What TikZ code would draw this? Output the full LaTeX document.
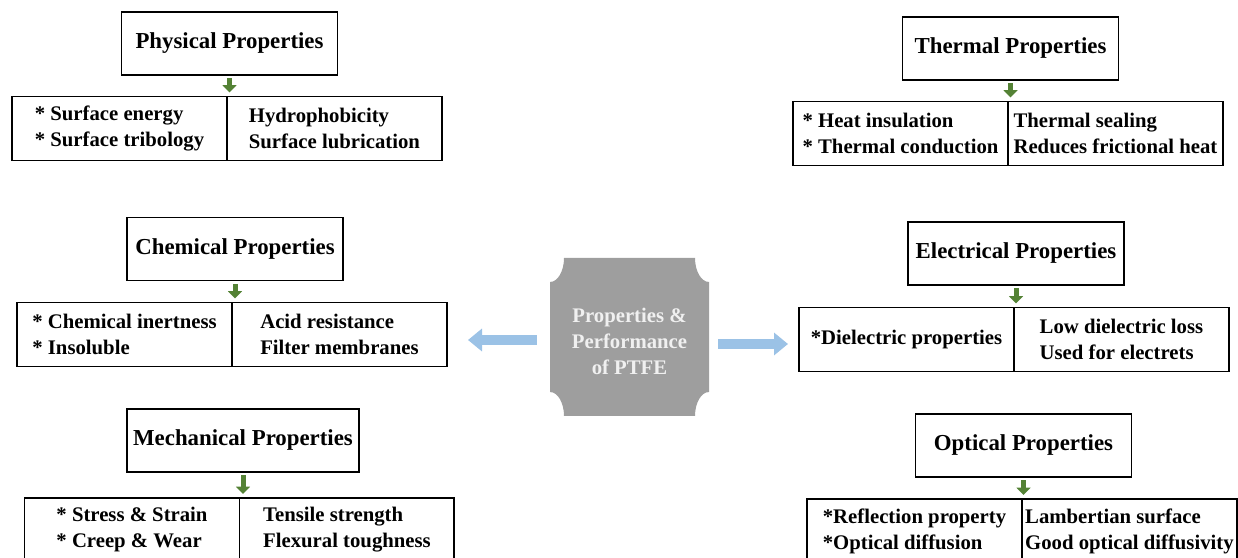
\documentclass[tikz,border=0pt]{standalone}
\usepackage{fontspec}
\setmainfont{Liberation Serif}
\usepackage{xcolor}
\usepackage{tikz}
\usetikzlibrary{arrows.meta}
\usetikzlibrary{positioning}
\definecolor{ptfegray}{RGB}{158,158,158}
\definecolor{ptfetext}{RGB}{240,240,240}
\definecolor{arrowblue}{RGB}{155,194,230}
\definecolor{arrowgreen}{RGB}{84,130,53}

\begin{document}
\begin{tikzpicture}[x=0.02cm, y=0.02cm,
  headbox/.style={rectangle, draw, line width=1.1pt, minimum width=4.32cm, minimum height=1.26cm, font=\fontsize{13}{15}\selectfont\bfseries},
  cell/.style={rectangle, draw, line width=1.1pt, outer sep=0pt, minimum width=4.3cm, minimum height=1.28cm, inner sep=1pt, align=left, font=\fontsize{11.8}{14.8}\selectfont\bfseries},
  downarrow/.style={-{Triangle[width=0.28cm, length=0.15cm]}, arrowgreen, line width=0.1cm, shorten <=0.05cm, shorten >=0.08cm},
  sidearrow/.style={-{Triangle[width=0.44cm, length=0.28cm]}, arrowblue, line width=0.2cm}]

  \useasboundingbox (0,0) rectangle (1238,558);

  \fill[ptfegray] (564,300) -- (695,300) arc[start angle=180, end angle=270, x radius=0.28cm, y radius=0.48cm]
    -- (709,166) arc[start angle=90, end angle=180, x radius=0.28cm, y radius=0.48cm]
    -- (564,142) arc[start angle=0, end angle=90, x radius=0.28cm, y radius=0.48cm]
    -- (550,276) arc[start angle=270, end angle=360, x radius=0.28cm, y radius=0.48cm] -- cycle;
  \node[text=ptfetext, align=center, minimum width=3.18cm, minimum height=3.16cm, inner sep=0pt, font=\fontsize{11.8}{14.8}\selectfont\bfseries] (ptfe) at (629.5,217) {Properties \&\\Performance\\of PTFE};

  \node[headbox] (phys) at (229.5,514.5) {Physical Properties};
  \node[cell] (physL) at (119.5,429.5) {* Surface energy\\* Surface tribology};
  \node[cell, right=0pt of physL] (physR) {Hydrophobicity\\Surface lubrication};

  \node[headbox] (chem) at (235,309) {Chemical Properties};
  \node[cell] (chemL) at (124.5,223.5) {* Chemical inertness\\* Insoluble};
  \node[cell, right=0pt of chemL] (chemR) {Acid resistance\\Filter membranes};

  \node[headbox] (mech) at (243,117.5) {Mechanical Properties};
  \node[cell] (mechL) at (132,28) {* Stress \& Strain\\* Creep \& Wear};
  \node[cell, right=0pt of mechL] (mechR) {Tensile strength\\Flexural toughness};

  \node[headbox] (therm) at (1010.5,509.5) {Thermal Properties};
  \node[cell] (thermL) at (900.5,424.5) {* Heat insulation\\* Thermal conduction};
  \node[cell, right=0pt of thermL] (thermR) {Thermal sealing\\Reduces frictional heat};

  \node[headbox] (elec) at (1016,304.5) {Electrical Properties};
  \node[cell] (elecL) at (906.5,218.5) {*Dielectric properties};
  \node[cell, right=0pt of elecL] (elecR) {Low dielectric loss\\Used for electrets};

  \node[headbox] (opt) at (1023.5,112.5) {Optical Properties};
  \node[cell] (optL) at (914.5,27) {*Reflection property\\*Optical diffusion};
  \node[cell, right=0pt of optL] (optR) {Lambertian surface\\Good optical diffusivity};

  \draw[downarrow] (phys.south) -- (phys.south |- physL.north);
  \draw[downarrow] (chem.south) -- (chem.south |- chemL.north);
  \draw[downarrow] (mech.south) -- (mech.south |- mechL.north);
  \draw[downarrow] (therm.south) -- (therm.south |- thermL.north);
  \draw[downarrow] (elec.south) -- (elec.south |- elecL.north);
  \draw[downarrow] (opt.south) -- (opt.south |- optL.north);

  \coordinate (lefttip) at (468,218);
  \coordinate (righttip) at (788,214);
  \draw[sidearrow, shorten <=0.26cm] (ptfe.west |- lefttip) -- (lefttip);
  \draw[sidearrow, shorten <=0.18cm] (ptfe.east |- righttip) -- (righttip);
\end{tikzpicture}
\end{document}
